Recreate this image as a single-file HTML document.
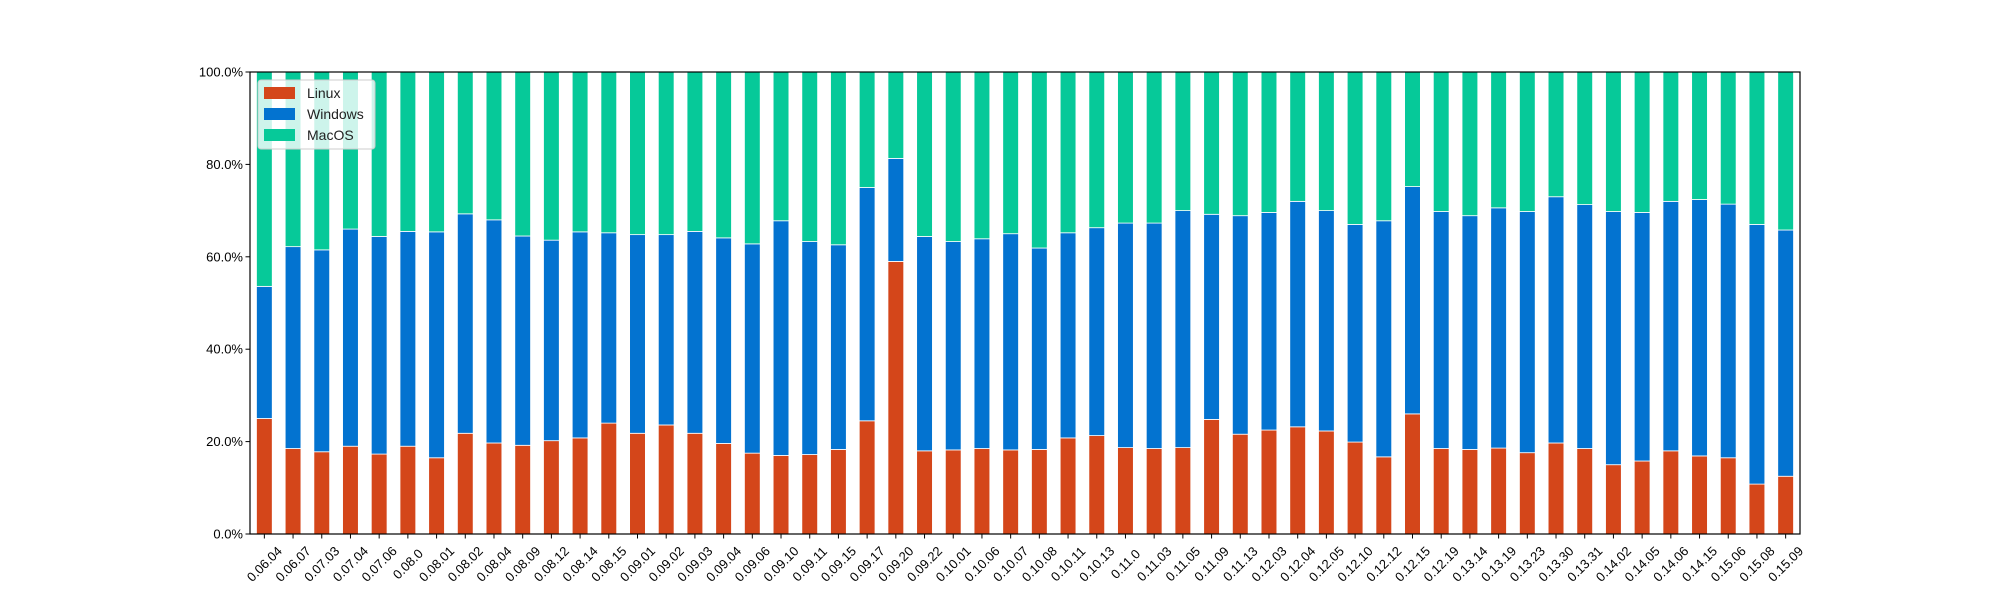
<!DOCTYPE html>
<html><head><meta charset="utf-8"><style>
html,body{margin:0;padding:0;background:#fff;}
svg{display:block;font-family:"Liberation Sans",Arial,sans-serif;}
</style></head><body>
<svg id="chart" width="2000" height="600"></svg>
<script>
const categories=["0.06.04","0.06.07","0.07.03","0.07.04","0.07.06","0.08.0","0.08.01","0.08.02","0.08.04","0.08.09","0.08.12","0.08.14","0.08.15","0.09.01","0.09.02","0.09.03","0.09.04","0.09.06","0.09.10","0.09.11","0.09.15","0.09.17","0.09.20","0.09.22","0.10.01","0.10.06","0.10.07","0.10.08","0.10.11","0.10.13","0.11.0","0.11.03","0.11.05","0.11.09","0.11.13","0.12.03","0.12.04","0.12.05","0.12.10","0.12.12","0.12.15","0.12.19","0.13.14","0.13.19","0.13.23","0.13.30","0.13.31","0.14.02","0.14.05","0.14.06","0.14.15","0.15.06","0.15.08","0.15.09"];
const linux=[25,18.5,17.8,19,17.3,19,16.5,21.8,19.7,19.2,20.2,20.8,24,21.8,23.6,21.8,19.6,17.5,17,17.2,18.3,24.5,59,18,18.2,18.5,18.2,18.3,20.8,21.3,18.7,18.5,18.7,24.8,21.6,22.5,23.2,22.3,19.9,16.7,26,18.5,18.3,18.6,17.6,19.7,18.5,15,15.8,18,16.9,16.5,10.8,12.5];
const windows=[28.6,43.7,43.7,47,47.1,46.5,48.9,47.5,48.3,45.3,43.4,44.6,41.2,43,41.2,43.7,44.5,45.3,50.8,46.1,44.3,50.5,22.3,46.4,45.1,45.4,46.8,43.6,44.4,45,48.6,48.8,51.3,44.4,47.3,47.1,48.8,47.7,47.1,51.1,49.2,51.3,50.6,52,52.2,53.3,52.8,54.8,53.8,54,55.5,54.9,56.2,53.3];
const macos=[46.4,37.8,38.5,34,35.6,34.5,34.6,30.7,32,35.5,36.4,34.6,34.8,35.2,35.2,34.5,35.9,37.2,32.2,36.7,37.4,25,18.7,35.6,36.7,36.1,35,38.1,34.8,33.7,32.7,32.7,30,30.8,31.1,30.4,28,30,33,32.2,24.8,30.2,31.1,29.4,30.2,27,28.7,30.2,30.4,28,27.6,28.6,33,34.2];
const yTicks=[0,20,40,60,80,100];
const seriesNames=["Linux","Windows","MacOS"];
const seriesColors=["#d4461a","#0373d0","#06c999"];

const NS="http://www.w3.org/2000/svg";
const svg=document.getElementById('chart');
const L=250,R=1800,T=72,B=534;
const n=categories.length, step=(R-L)/n, bw=step*0.55;
function xc(i){return L+(i+0.5)*step;}
function y(v){return B-(v/100)*(B-T);}
function mk(tag,attrs,parent){const e=document.createElementNS(NS,tag);for(const k in attrs)e.setAttribute(k,attrs[k]);(parent||svg).appendChild(e);return e;}

const series=[linux,windows,macos];
const gBars=mk('g',{});


for(let i=0;i<n;i++){
  const tot=linux[i]+windows[i]+macos[i];
  let cum=0;
  for(let s=0;s<3;s++){
    const v=series[s][i]/tot*100;
    const r=mk('rect',{x:xc(i)-bw/2,y:y(cum+v),width:bw,height:y(cum)-y(cum+v),fill:seriesColors[s],stroke:'#ffffff','stroke-width':0.8},gBars);
    
    
    cum+=v;
  }
}
// axes frame
const frame=mk('rect',{x:L,y:T,width:R-L,height:B-T,fill:'none',stroke:'#000','stroke-width':1.2});


// y ticks
for(const t of yTicks){
  mk('line',{x1:L-4.5,x2:L,y1:y(t),y2:y(t),stroke:'#000','stroke-width':1});
  const tx=mk('text',{x:L-7,y:y(t)+4.5,'text-anchor':'end','font-size':13,fill:'#000'});
  tx.textContent=t.toFixed(1)+'%';
  
  
}
// x ticks
for(let i=0;i<n;i++){
  mk('line',{x1:xc(i),x2:xc(i),y1:B,y2:B+4.5,stroke:'#000','stroke-width':1});
  const cx=xc(i), cy=564;
  const tx=mk('text',{x:cx,y:cy+4.5,'text-anchor':'middle','font-size':13,fill:'#000',transform:`rotate(-45 ${cx} ${cy})`});
  tx.textContent=categories[i];
  
  
}
// legend
const lg=mk('g',{});


mk('rect',{x:258,y:80,width:117,height:69,rx:3,fill:'#ffffff','fill-opacity':0.8,stroke:'#cccccc','stroke-width':1},lg);
for(let s=0;s<3;s++){
  const yy=87+s*21;
  const sw=mk('rect',{x:264,y:yy,width:31,height:12,fill:seriesColors[s]},lg);
  
  
  const tx=mk('text',{x:307,y:yy+11,'font-size':14,fill:'#222'},lg);
  tx.textContent=seriesNames[s];
  
  
}
</script>
</body></html>
